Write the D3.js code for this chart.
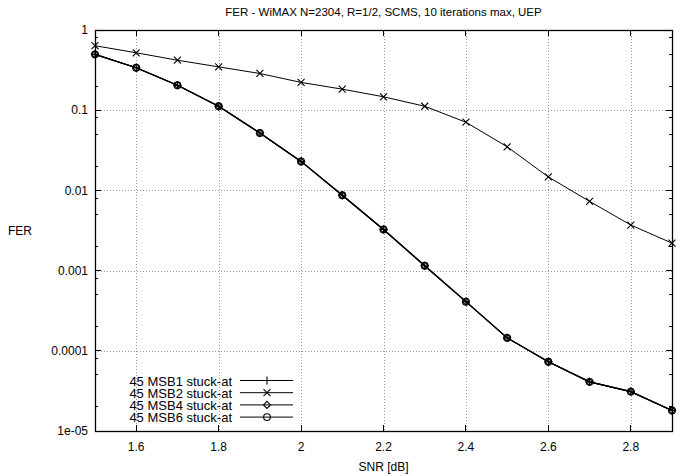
<!DOCTYPE html>
<meta charset="utf-8">
<title>FER - WiMAX</title>
<style>
body { margin: 0; background: #fff; }
text { font-family: "Liberation Sans", Arial, sans-serif; font-size: 12px; fill: #000; }
.legend text { font-size: 13px; }
.grid line { stroke: #999; stroke-dasharray: 1 2; shape-rendering: crispEdges; }
.series path { fill: none; stroke: #000; }
</style>
<body>
<script src="https://cdn.jsdelivr.net/npm/d3@7"></script>
<script>

// SNR points (dB)
var snr = [1.5, 1.6, 1.7, 1.8, 1.9, 2.0, 2.1, 2.2, 2.3, 2.4, 2.5, 2.6, 2.7, 2.8, 2.9];

// FER values
var msb1 = [0.497, 0.338, 0.205, 0.112, 0.052, 0.023, 0.0087, 0.00326, 0.00115, 0.00041, 0.000145, 0.000073, 0.000041, 0.000031, 0.000018];
var msb2 = [0.637, 0.52, 0.42, 0.347, 0.287, 0.222, 0.183, 0.147, 0.112, 0.0708, 0.035, 0.0147, 0.0073, 0.0037, 0.0022];
var msb4 = [0.497, 0.338, 0.205, 0.112, 0.052, 0.023, 0.0087, 0.00326, 0.00115, 0.00041, 0.000145, 0.000073, 0.000041, 0.000031, 0.000018];
var msb6 = [0.497, 0.338, 0.205, 0.112, 0.052, 0.023, 0.0087, 0.00326, 0.00115, 0.00041, 0.000145, 0.000073, 0.000041, 0.000031, 0.000018];

var seriesNames = ["45 MSB1 stuck-at", "45 MSB2 stuck-at", "45 MSB4 stuck-at", "45 MSB6 stuck-at"];
var xTicks = [1.6, 1.8, 2.0, 2.2, 2.4, 2.6, 2.8];
var yTicks = [1, 0.1, 0.01, 0.001, 0.0001, 0.00001];
var yTickLabels = ["1", "0.1", "0.01", "0.001", "0.0001", "1e-05"];

var width = 689, height = 476;
var margin = {top: 30, right: 17, bottom: 45, left: 95};
var iw = width - margin.left - margin.right,
    ih = height - margin.top - margin.bottom;

var svg = d3.select("body").append("svg")
    .attr("width", width)
    .attr("height", height);

var g = svg.append("g")
    .attr("transform", "translate(" + margin.left + "," + margin.top + ")");

var x = d3.scaleLinear().domain([1.5, 2.9]).range([0, iw]);
var y = d3.scaleLog().domain([1e-5, 1]).range([ih, 0]);

// minor ticks at 2, 5, 8 of each decade
var minorY = [];
for (var e = -5; e < 0; e++) {
  [2, 5, 8].forEach(function(m) { minorY.push(m * Math.pow(10, e)); });
}

// grid
var grid = g.append("g").attr("class", "grid");
grid.selectAll(".gx").data(xTicks).enter().append("line")
    .attr("x1", function(d) { return Math.round(x(d)) + 0.5; })
    .attr("x2", function(d) { return Math.round(x(d)) + 0.5; })
    .attr("y1", 0).attr("y2", ih);
grid.selectAll(".gy").data(yTicks.slice(1, -1)).enter().append("line")
    .attr("y1", function(d) { return Math.round(y(d)) + 0.5; })
    .attr("y2", function(d) { return Math.round(y(d)) + 0.5; })
    .attr("x1", 0).attr("x2", iw);

// ticks (inward, mirrored)
var ticks = g.append("g").attr("stroke", "#000").attr("shape-rendering", "crispEdges");
xTicks.forEach(function(d) {
  ticks.append("line").attr("x1", x(d)).attr("x2", x(d)).attr("y1", ih).attr("y2", ih - 6);
  ticks.append("line").attr("x1", x(d)).attr("x2", x(d)).attr("y1", 0).attr("y2", 6);
});
yTicks.forEach(function(d) {
  ticks.append("line").attr("y1", y(d)).attr("y2", y(d)).attr("x1", 0).attr("x2", 6);
  ticks.append("line").attr("y1", y(d)).attr("y2", y(d)).attr("x1", iw).attr("x2", iw - 6);
});
minorY.forEach(function(d) {
  ticks.append("line").attr("y1", y(d)).attr("y2", y(d)).attr("x1", 0).attr("x2", 3);
  ticks.append("line").attr("y1", y(d)).attr("y2", y(d)).attr("x1", iw).attr("x2", iw - 3);
});

// tick labels
g.append("g").selectAll("text").data(xTicks).enter().append("text")
    .attr("x", function(d) { return x(d); })
    .attr("y", ih + 20)
    .attr("text-anchor", "middle")
    .text(function(d) { return d3.format(".1f")(d).replace(/\.0$/, ""); });
g.append("g").selectAll("text").data(yTicks).enter().append("text")
    .attr("x", -7)
    .attr("y", function(d) { return y(d); })
    .attr("dy", "0.35em")
    .attr("text-anchor", "end")
    .text(function(d, i) { return yTickLabels[i]; });

// border
g.append("rect")
    .attr("x", 0.5).attr("y", 0.5)
    .attr("width", iw).attr("height", ih)
    .attr("fill", "none").attr("stroke", "#000").attr("stroke-width", 1.3);

// markers
function marker(sel, type) {
  var p;
  if (type === "plus") p = "M-4,0H4M0,-4V4";
  else if (type === "cross") p = "M-3.5,-3.5L3.5,3.5M-3.5,3.5L3.5,-3.5";
  else if (type === "diamond") p = "M0,-3.5L3.5,0L0,3.5L-3.5,0Z";
  else p = d3.symbol().type(d3.symbolCircle).size(36)();
  sel.append("path").attr("d", p).attr("fill", "none").attr("stroke", "#000").attr("stroke-width", 1.1);
}

var data = [msb1, msb2, msb4, msb6];
var types = ["plus", "cross", "diamond", "circle"];
var line = d3.line().x(function(d) { return x(d[0]); }).y(function(d) { return y(d[1]); });

data.forEach(function(vals, si) {
  var pts = snr.map(function(s, i) { return [s, vals[i]]; });
  var sg = g.append("g").attr("class", "series");
  sg.append("path").attr("d", line(pts)).attr("stroke-width", si === 1 ? 1 : 1.2);
  pts.forEach(function(p) {
    marker(sg.append("g").attr("transform", "translate(" + x(p[0]) + "," + y(p[1]) + ")"), types[si]);
  });
});

// legend
var lg = g.append("g").attr("class", "legend")
    .attr("transform", "translate(" + (x(1.5) + 137) + "," + (ih - 50) + ")");
seriesNames.forEach(function(name, i) {
  var row = lg.append("g").attr("transform", "translate(0," + (i * 12.2) + ")");
  row.append("text").attr("x", 0).attr("y", 0).attr("dy", "0.35em").attr("text-anchor", "end").text(name);
  row.append("line").attr("x1", 8).attr("x2", 61).attr("y1", -0.5).attr("y2", -0.5).attr("stroke", "#000");
  marker(row.append("g").attr("transform", "translate(35,-0.5)"), types[i]);
});

// titles
svg.append("text")
    .attr("x", margin.left + iw / 2)
    .attr("y", 16)
    .attr("text-anchor", "middle")
    .style("font-size", "11.5px")
    .text("FER - WiMAX N=2304, R=1/2, SCMS, 10 iterations max, UEP");
svg.append("text")
    .attr("x", margin.left + iw / 2)
    .attr("y", 471)
    .attr("text-anchor", "middle")
    .text("SNR [dB]");
svg.append("text")
    .attr("x", 20)
    .attr("y", margin.top + ih / 2 + 4)
    .attr("text-anchor", "middle")
    .text("FER");

</script>
</body>
